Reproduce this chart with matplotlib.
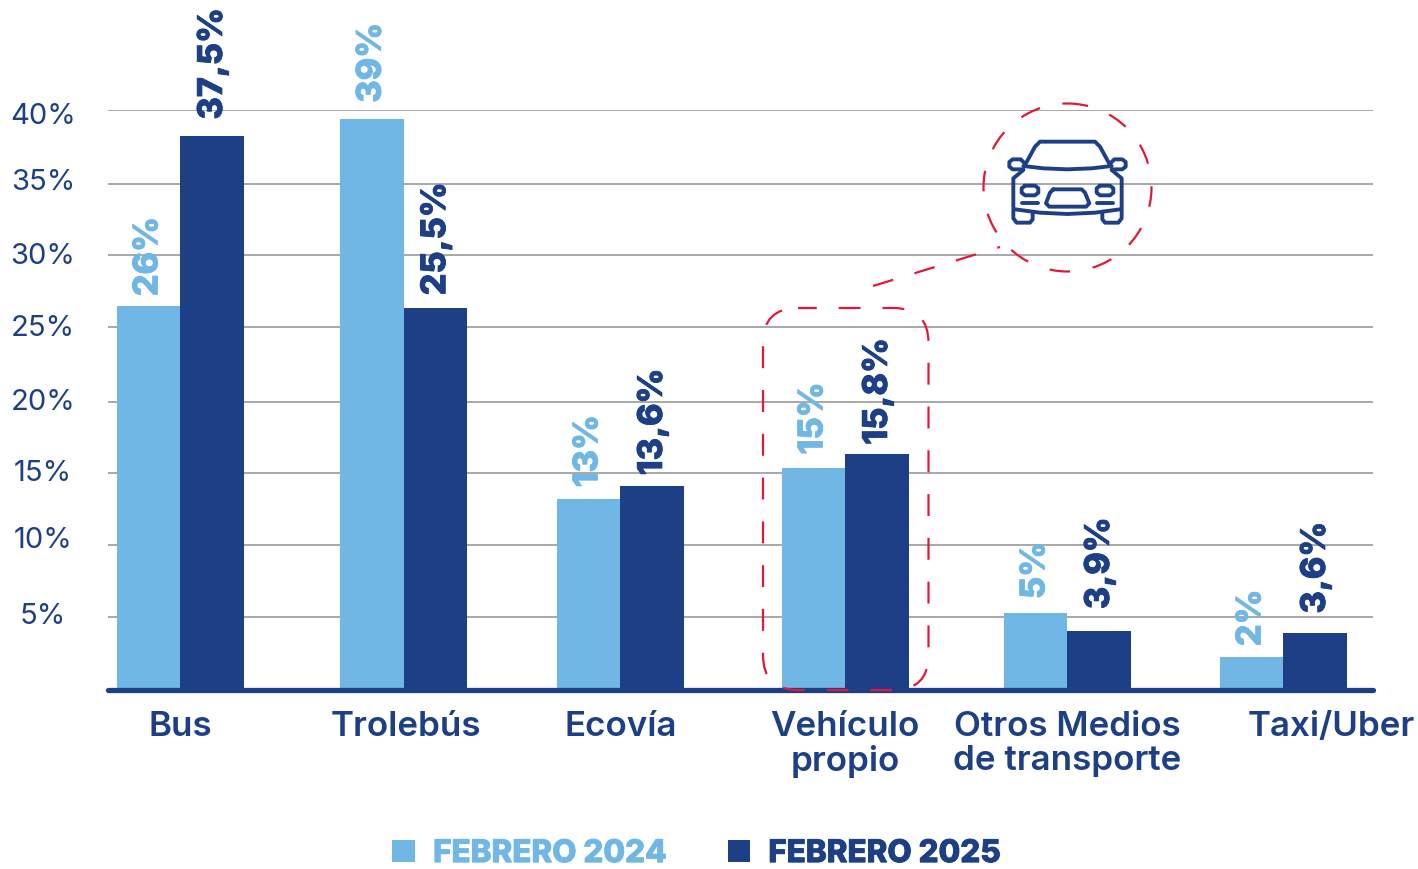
import matplotlib
matplotlib.use('Agg')
import matplotlib.pyplot as plt
import matplotlib.patheffects as pe
from matplotlib.patches import Circle, FancyBboxPatch
from matplotlib.transforms import Affine2D

plt.rcParams['font.family'] = ['Inter', 'DejaVu Sans']

categories = ['Bus', 'Trolebús', 'Ecovía', 'Vehículo\npropio', 'Otros Medios\nde transporte', 'Taxi/Uber']
values_2024 = [26.45, 39.4, 13.1, 15.3, 5.25, 2.2]
values_2025 = [38.17, 26.3, 14.0, 16.25, 4.0, 3.9]
labels_2024 = ['26%', '39%', '13%', '15%', '5%', '2%']
labels_2025 = ['37,5%', '25,5%', '13,6%', '15,8%', '3,9%', '3,6%']
y_labels = ['5%', '10%', '15%', '20%', '25%', '30%', '35%', '40%']
grid_y = [4.97, 9.95, 14.92, 19.83, 25.0, 29.98, 34.89, 40.0]

LIGHT = '#71B7E6'
DARK = '#1C3F85'
RED = '#E4173A'

# x axis runs in picture pixels, the groups are not evenly spaced
centers = [180.2, 403.5, 620.2, 845.2, 1067.2, 1283.2]
label_x = [180.5, 406, 620.5, 845, 1067.5, 1331]
bar_w = 63.5
gap_2024 = [10, 16, 12, 13, 14, 11]
gap_2025 = [17, 13, 11, 9, 22, 19]
y_label_shift = [1, 4, 0, -1, -1, -1, 1, -6]

W, H = 1418, 869
fig = plt.figure(figsize=(W / 100, H / 100), dpi=100)
ax = fig.add_axes([108 / W, (H - 689) / H, 1265 / W, 579 / H])
ax.set_xlim(108, 1373)
ax.set_ylim(0, 40)
for s in ax.spines.values():
    s.set_visible(False)

# pixel coords, y going down
px = Affine2D().scale(1, -1).translate(0, H)
fat = [pe.withStroke(linewidth=0.6, foreground=LIGHT)], [pe.withStroke(linewidth=0.6, foreground=DARK)]

ax.hlines(grid_y, 108, 1373, color='#9a9a9a', lw=1.2, zorder=1)
for v, lab, sh in zip(grid_y, y_labels, y_label_shift):
    ax.annotate(lab, xy=(43, v), xytext=(0, sh), xycoords='data', textcoords='offset pixels',
                ha='center', va='center', fontsize=21, color=DARK, annotation_clip=False)

b1 = ax.bar([c - bar_w / 2 for c in centers], values_2024, bar_w, color=LIGHT, zorder=2, label='FEBRERO 2024')
b2 = ax.bar([c + bar_w / 2 for c in centers], values_2025, bar_w, color=DARK, zorder=2, label='FEBRERO 2025')

for c, v, lab, g in zip(centers, values_2024, labels_2024, gap_2024):
    ax.annotate(lab, xy=(c - bar_w / 2, v), xytext=(0, g), textcoords='offset pixels', rotation=90,
                ha='center', va='bottom', fontsize=24.5, fontweight='heavy', color=LIGHT,
                annotation_clip=False, path_effects=fat[0])
for c, v, lab, g in zip(centers, values_2025, labels_2025, gap_2025):
    ax.annotate(lab, xy=(c + bar_w / 2 + 1, v), xytext=(0, g), textcoords='offset pixels', rotation=90,
                ha='center', va='bottom', fontsize=24.5, fontweight='heavy', color=DARK,
                annotation_clip=False, path_effects=fat[1])

ax.set_yticks([])
ax.set_xticks(label_x, categories)
ax.tick_params(axis='x', length=0, pad=16, labelsize=25.2, labelcolor=DARK)
for t in ax.get_xticklabels():
    t.set_fontweight('semibold')
    t.set_linespacing(1.08)

ax.plot([108, 1373], [690, 690], transform=px, color=DARK, lw=3.8, solid_capstyle='round', clip_on=False, zorder=3)

# red callout
ax.add_patch(FancyBboxPatch((763, 308), 165.5, 382, boxstyle='round,pad=0,rounding_size=35', transform=px,
                            fill=False, ec=RED, lw=1.6, ls=(1.4, (9.85, 9.85)), clip_on=False, zorder=4))
ax.add_patch(Circle((1067.5, 187.5), 84, transform=px, fill=False, ec=RED, lw=1.6,
                    ls=(0, (9.3, 10.3)), clip_on=False, zorder=4))
ax.plot([873, 1000], [286, 247], transform=px, color=RED, lw=1.6, ls=(0, (9.5, 10)), clip_on=False, zorder=4)


# car icon, traced in a 3x crop starting at (960, 90)
def car(xs, ys):
    ax.plot([960 + x / 3 for x in xs], [90 + y / 3 for y in ys], transform=px, color=DARK, lw=2.8,
            solid_capstyle='round', solid_joinstyle='round', clip_on=False, zorder=5)


car([195, 225, 240, 405, 420, 450], [225, 170, 155, 155, 170, 225])
car([190, 250, 322, 395, 455], [228, 235, 238, 235, 228])
car([190, 160, 160, 170, 210, 218, 218], [240, 265, 385, 398, 398, 388, 370])
car([455, 485, 485, 475, 435, 427, 427], [240, 265, 385, 398, 398, 388, 370])
car([165, 240, 322, 405, 480], [358, 368, 372, 368, 358])
car([190, 158, 148, 148, 158, 182, 192], [238, 238, 230, 216, 208, 208, 218])
car([455, 487, 497, 497, 487, 463, 453], [238, 238, 230, 216, 208, 208, 218])
car([195, 225, 235, 235, 225, 195, 185, 185, 195], [287, 287, 295, 308, 316, 316, 308, 295, 287])
car([420, 450, 460, 460, 450, 420, 410, 410, 420], [287, 287, 295, 308, 316, 316, 308, 295, 287])
car([187, 235], [340, 340])
car([410, 458], [340, 340])
car([280, 365, 375, 388, 378, 268, 258, 270, 280], [298, 298, 308, 340, 350, 350, 340, 308, 298])

leg = ax.legend(handles=[b1, b2], ncol=2, loc='center', bbox_to_anchor=(696.5, 854), bbox_transform=px,
                frameon=False, fontsize=22.6, handlelength=0.73, handleheight=0.73, handletextpad=0.57,
                columnspacing=1.94, borderpad=0, borderaxespad=0)
for t, c, f in zip(leg.get_texts(), [LIGHT, DARK], fat):
    t.set_color(c)
    t.set_fontweight('heavy')
    t.set_path_effects(f)

fig.savefig('out.png', dpi=100)
